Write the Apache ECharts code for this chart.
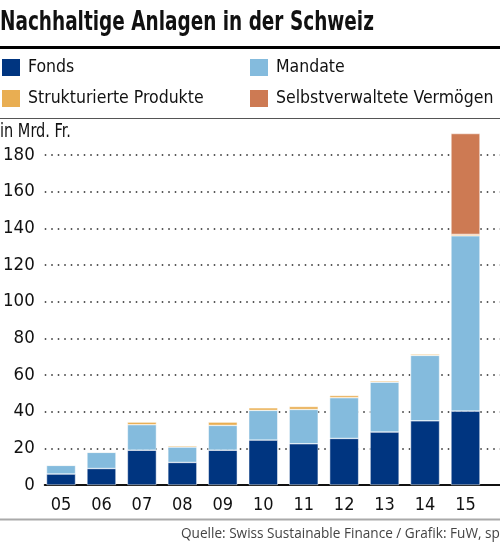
<!DOCTYPE html>
<html>
<head>
<meta charset="utf-8">
<script src="https://cdn.jsdelivr.net/npm/echarts@6/dist/echarts.min.js"></script>
<style>
html,body{margin:0;padding:0;background:#fff;}
#c{width:500px;height:554px;}
</style>
</head>
<body>
<div id="c"></div>
<script>
var categories = ['05','06','07','08','09','10','11','12','13','14','15'];
var fonds = [6.0, 9.0, 19.0, 12.3, 19.0, 24.5, 22.5, 25.4, 28.9, 35.0, 40.3];
var mandate = [4.7, 8.8, 13.9, 8.4, 13.5, 16.2, 18.7, 22.2, 27.2, 35.7, 95.6];
var strukturiert = [0.3, 0.3, 1.4, 0.7, 1.8, 1.4, 1.6, 1.2, 0.7, 0.7, 0.8];
var selbst = [null, null, null, null, null, null, null, null, null, null, 55.0];

var NARROW = "'Liberation Sans Narrow','DejaVu Sans Condensed',sans-serif";

var chart = echarts.init(document.getElementById('c'), null, {renderer:'canvas'});
function barSeries(name, data, color){
  return {
    name: name, type: 'bar', stack: 'a', data: data, barWidth: 29, clip: false,
    xAxisIndex: 1, yAxisIndex: 1,
    itemStyle: { color: color, borderColor: '#fff', borderWidth: 0.5 },
    emphasis: { disabled: true }
  };
}
chart.setOption({
  animation: false,
  legend: [
    { data: ['Fonds', 'Strukturierte Produkte'], orient: 'vertical', left: 0, top: 57, padding: 0,
      itemWidth: 20, itemHeight: 19, itemGap: 10, icon: 'rect',
      textStyle: { fontFamily: NARROW, fontSize: 17.5, color: '#111', padding: [0,0,0,2] } },
    { data: ['Mandate', 'Selbstverwaltete Vermögen'], orient: 'vertical', left: 248, top: 57, padding: 0,
      itemWidth: 20, itemHeight: 19, itemGap: 10, icon: 'rect',
      textStyle: { fontFamily: NARROW, fontSize: 17.5, color: '#111', padding: [0,0,0,2] } }
  ],
  grid: [
    { left: 40, right: 0, top: 155, bottom: 69 },
    { left: 40.8, right: 14.3, top: 155, bottom: 69 }
  ],
  xAxis: [
    { type: 'value', gridIndex: 0, min: 0, max: 1,
      axisLine: { show: true, onZero: false, lineStyle: { color: '#111', width: 2 } },
      axisTick: { show: false }, axisLabel: { show: false }, splitLine: { show: false } },
    { type: 'category', gridIndex: 1, data: categories,
      axisLine: { show: false }, axisTick: { show: false },
      axisLabel: { margin: 11, fontFamily: NARROW, fontSize: 18, color: '#111' } }
  ],
  yAxis: [
    { type: 'value', gridIndex: 0, min: 0, max: 180, interval: 20,
      axisLine: { show: false }, axisTick: { show: false },
      axisLabel: { margin: 10, fontFamily: NARROW, fontSize: 18.5, color: '#111' },
      splitLine: { show: true, lineStyle: { color: '#222', width: 1.5, type: [1.5, 5] } } },
    { type: 'value', gridIndex: 1, min: 0, max: 180, interval: 20, show: false,
      splitLine: { show: false } }
  ],
  graphic: [
    { type: 'text', x: 0, y: 9, scaleX: 0.76, style: { text: 'Nachhaltige Anlagen in der Schweiz', font: "bold 27px " + NARROW, fill: '#111' } },
    { type: 'rect', shape: { x: 0, y: 46, width: 500, height: 3 }, style: { fill: '#000' } },
    { type: 'rect', shape: { x: 0, y: 118, width: 500, height: 1 }, style: { fill: '#555' } },
    { type: 'rect', shape: { x: 0, y: 518.5, width: 500, height: 2 }, style: { fill: '#aaa' } },
    { type: 'text', x: 0, y: 123, scaleX: 0.85, style: { text: 'in Mrd. Fr.', font: "19px " + NARROW, fill: '#111' } },
    { type: 'text', x: 181, y: 527, style: { text: 'Quelle: Swiss Sustainable Finance / Grafik: FuW, sp', font: "13.6px 'Open Sans',sans-serif", fill: '#444' } }
  ],
  series: [
    barSeries('Fonds', fonds, '#003580'),
    barSeries('Mandate', mandate, '#84bbdd'),
    barSeries('Strukturierte Produkte', strukturiert, '#e9ae52'),
    barSeries('Selbstverwaltete Vermögen', selbst, '#cd7a53')
  ]
});
</script>
</body>
</html>
